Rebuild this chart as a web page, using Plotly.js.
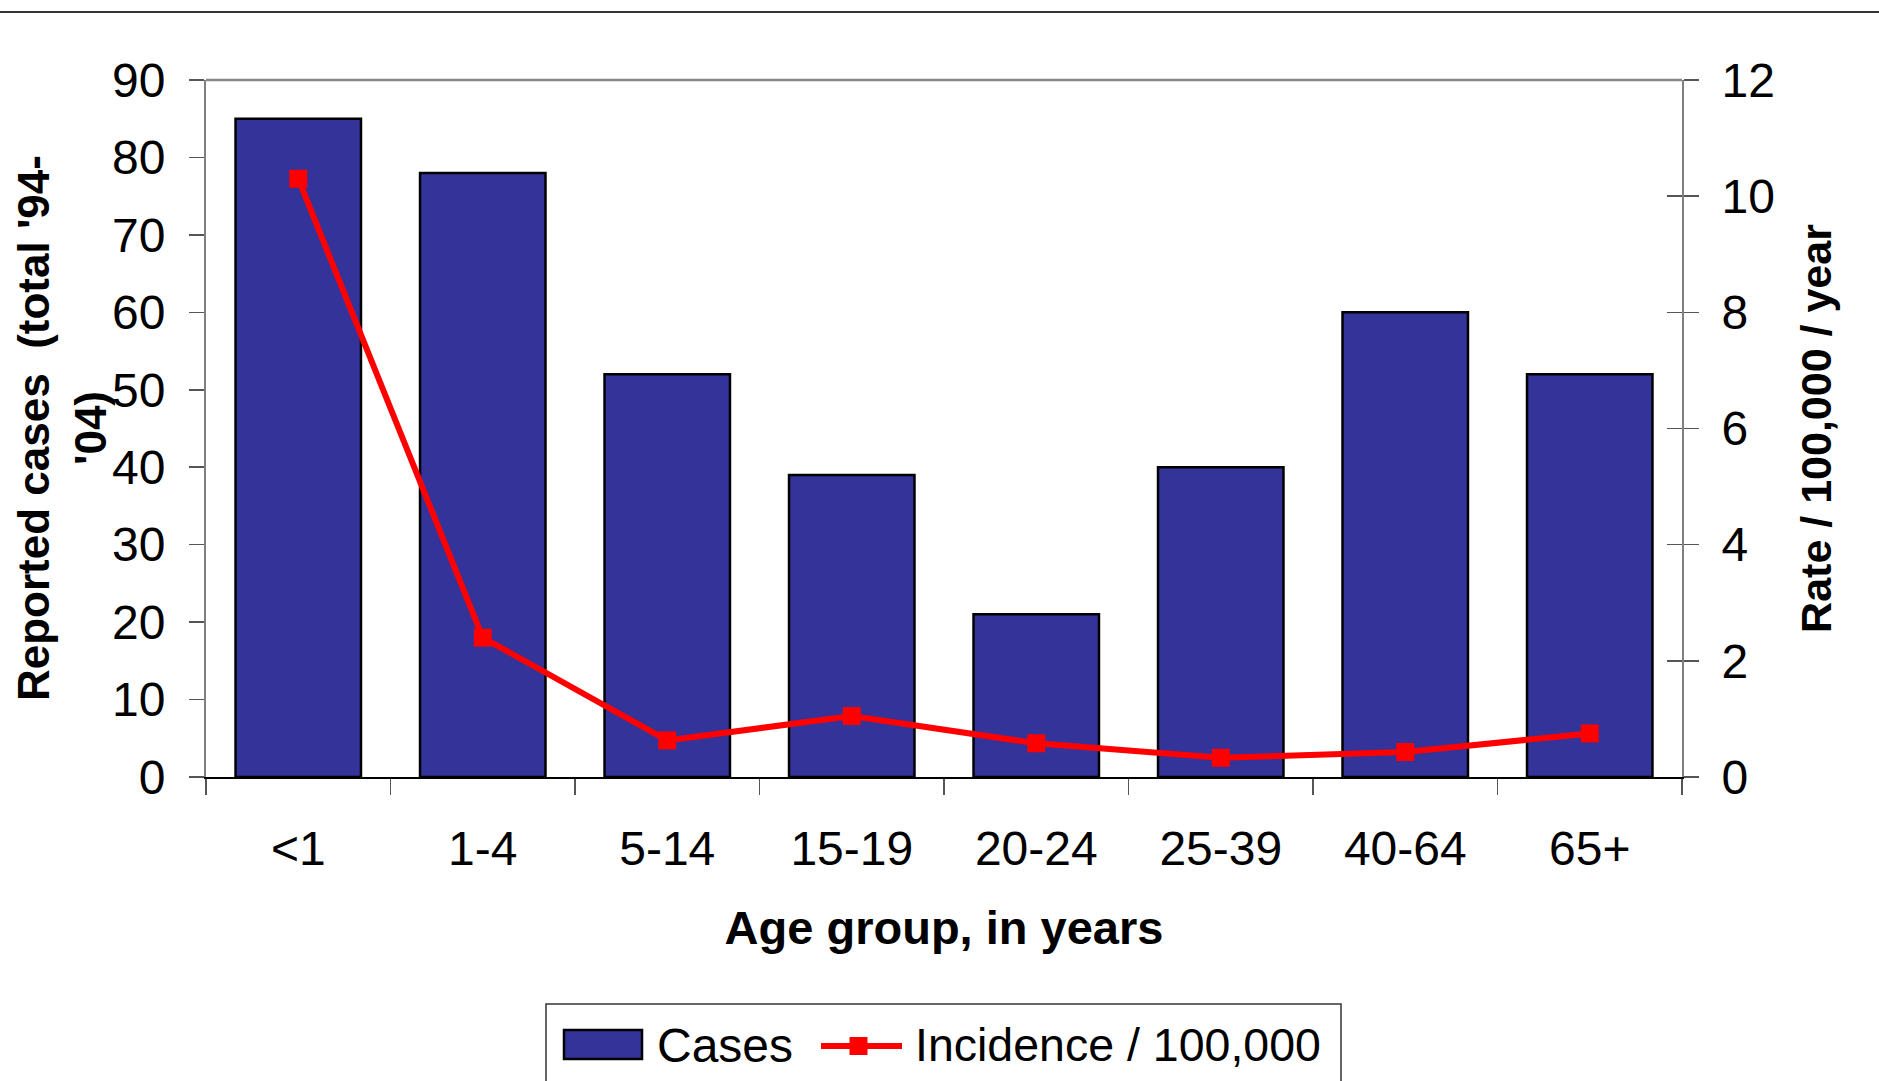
<!DOCTYPE html>
<html>
<head>
<meta charset="utf-8">
<script src="https://cdn.plot.ly/plotly-3.0.1.min.js"></script>
<style>
html,body{margin:0;padding:0;background:#fff;}
#chart{width:1879px;height:1081px;}
</style>
</head>
<body>
<div id="chart"></div>
<script>
const ageGroups = ["<1", "1-4", "5-14", "15-19", "20-24", "25-39", "40-64", "65+"];
const cases = [85, 78, 52, 39, 21, 40, 60, 52];
const incidence = [10.3, 2.4, 0.63, 1.05, 0.58, 0.33, 0.43, 0.75];
const seriesNames = ["Cases", "Incidence / 100,000"];
const leftTitle = "Reported cases  (total '94-<br>'04)";
const rightTitle = "Rate / 100,000 / year";
const xTitle = "Age group, in years";

const FONT = "Liberation Sans, Arial, sans-serif";
const BAR_COLOR = "#333399";
const LINE_COLOR = "#FF0000";

const W = 1879, H = 1081;
const M = {l: 206, r: 197, t: 80, b: 304};
const PW = W - M.l - M.r, PH = H - M.t - M.b;
const px = v => (v - M.l) / PW;          // pixel x -> paper x
const py = v => (H - M.b - v) / PH;      // pixel y -> paper y

const traces = [
  {
    type: "bar",
    name: seriesNames[0],
    x: ageGroups,
    y: cases,
    marker: {color: BAR_COLOR, line: {color: "#000000", width: 2.5}},
    yaxis: "y",
    showlegend: false
  },
  {
    type: "scatter",
    mode: "lines+markers",
    name: seriesNames[1],
    x: ageGroups,
    y: incidence,
    yaxis: "y2",
    line: {color: LINE_COLOR, width: 6},
    marker: {symbol: "square", size: 18, color: LINE_COLOR},
    showlegend: false
  },
  {type: "scatter", x: [ageGroups[0]], y: [0], yaxis: "y3", mode: "markers",
   marker: {opacity: 0}, showlegend: false, hoverinfo: "skip"}
];

const tickFont = {family: FONT, size: 48, color: "#000"};

const layout = {
  width: W,
  height: H,
  paper_bgcolor: "#ffffff",
  plot_bgcolor: "#ffffff",
  margin: M,
  font: {family: FONT, color: "#000000", size: 44},
  bargap: 0.32,
  showlegend: false,
  xaxis: {
    type: "category",
    range: [-0.5, 7.5],
    automargin: false,
    showline: true,
    linecolor: "#000000",
    linewidth: 2,
    ticks: "outside",
    tickson: "boundaries",
    ticklen: 16,
    tickcolor: "#555555",
    tickwidth: 1.5,
    tickfont: tickFont,
    ticklabelstandoff: 28,
    showgrid: false,
    zeroline: false,
    title: {text: "<b>" + xTitle + "</b>", font: {family: FONT, size: 47, color: "#000"}, standoff: 38}
  },
  yaxis: {
    range: [0, 90],
    dtick: 10,
    automargin: false,
    showline: true,
    linecolor: "#808080",
    linewidth: 2,
    ticks: "outside",
    ticklen: 15,
    tickcolor: "#555555",
    tickwidth: 1.5,
    tickfont: tickFont,
    ticklabelstandoff: 14,
    showgrid: false,
    zeroline: false
  },
  yaxis2: {
    range: [0, 12],
    dtick: 2,
    overlaying: "y",
    side: "right",
    anchor: "x",
    automargin: false,
    showline: true,
    linecolor: "#808080",
    linewidth: 2,
    ticks: "outside",
    ticklen: 15,
    tickcolor: "#555555",
    tickwidth: 1.5,
    tickfont: tickFont,
    ticklabelstandoff: 13,
    showgrid: false,
    zeroline: false,
    title: {text: "<b>" + rightTitle + "</b>", font: {family: FONT, size: 43, color: "#000"}, standoff: 27}
  },
  yaxis3: {
    range: [0, 12],
    dtick: 2,
    overlaying: "y",
    side: "right",
    anchor: "x",
    automargin: false,
    showline: false,
    ticks: "inside",
    ticklen: 15,
    tickcolor: "#555555",
    tickwidth: 1.5,
    showticklabels: false,
    showgrid: false,
    zeroline: false
  },
  shapes: [
    // rule across the top of the figure
    {type: "line", xref: "paper", yref: "paper", x0: px(0), x1: px(W), y0: py(12), y1: py(12),
     line: {color: "#333333", width: 2}},
    // plot-area top border
    {type: "line", xref: "paper", yref: "paper", x0: 0, x1: 1, y0: 1, y1: 1,
     line: {color: "#888888", width: 2.5}},
    // legend box
    {type: "rect", xref: "paper", yref: "paper", x0: px(546), x1: px(1341), y0: py(1004), y1: py(1095),
     line: {color: "#333333", width: 1.5}, fillcolor: "#ffffff"},
    // legend swatch: bars
    {type: "rect", xref: "paper", yref: "paper", x0: px(564), x1: px(642), y0: py(1030), y1: py(1059),
     line: {color: "#000000", width: 2.5}, fillcolor: BAR_COLOR},
    // legend swatch: line + marker
    {type: "line", xref: "paper", yref: "paper", x0: px(821), x1: px(902), y0: py(1046), y1: py(1046),
     line: {color: LINE_COLOR, width: 6}},
    {type: "rect", xref: "paper", yref: "paper", x0: px(849.5), x1: px(867.5), y0: py(1037), y1: py(1055),
     line: {width: 0}, fillcolor: LINE_COLOR}
  ],
  annotations: [
    // left y-axis title (two lines, as in the original)
    {xref: "paper", yref: "paper", x: px(61.5), y: 0.5, xanchor: "center", yanchor: "middle",
     textangle: -90, text: "<b>" + leftTitle + "</b>", showarrow: false,
     font: {family: FONT, size: 44, color: "#000"}},
    // legend labels
    {xref: "paper", yref: "paper", x: px(654.5), y: py(1045), xanchor: "left", yanchor: "middle",
     text: seriesNames[0], showarrow: false, font: {family: FONT, size: 48, color: "#000"}},
    {xref: "paper", yref: "paper", x: px(913), y: py(1045), xanchor: "left", yanchor: "middle",
     text: seriesNames[1], showarrow: false, font: {family: FONT, size: 46.5, color: "#000"}}
  ]
};

Plotly.newPlot("chart", traces, layout, {displayModeBar: false, staticPlot: true});
</script>
</body>
</html>
